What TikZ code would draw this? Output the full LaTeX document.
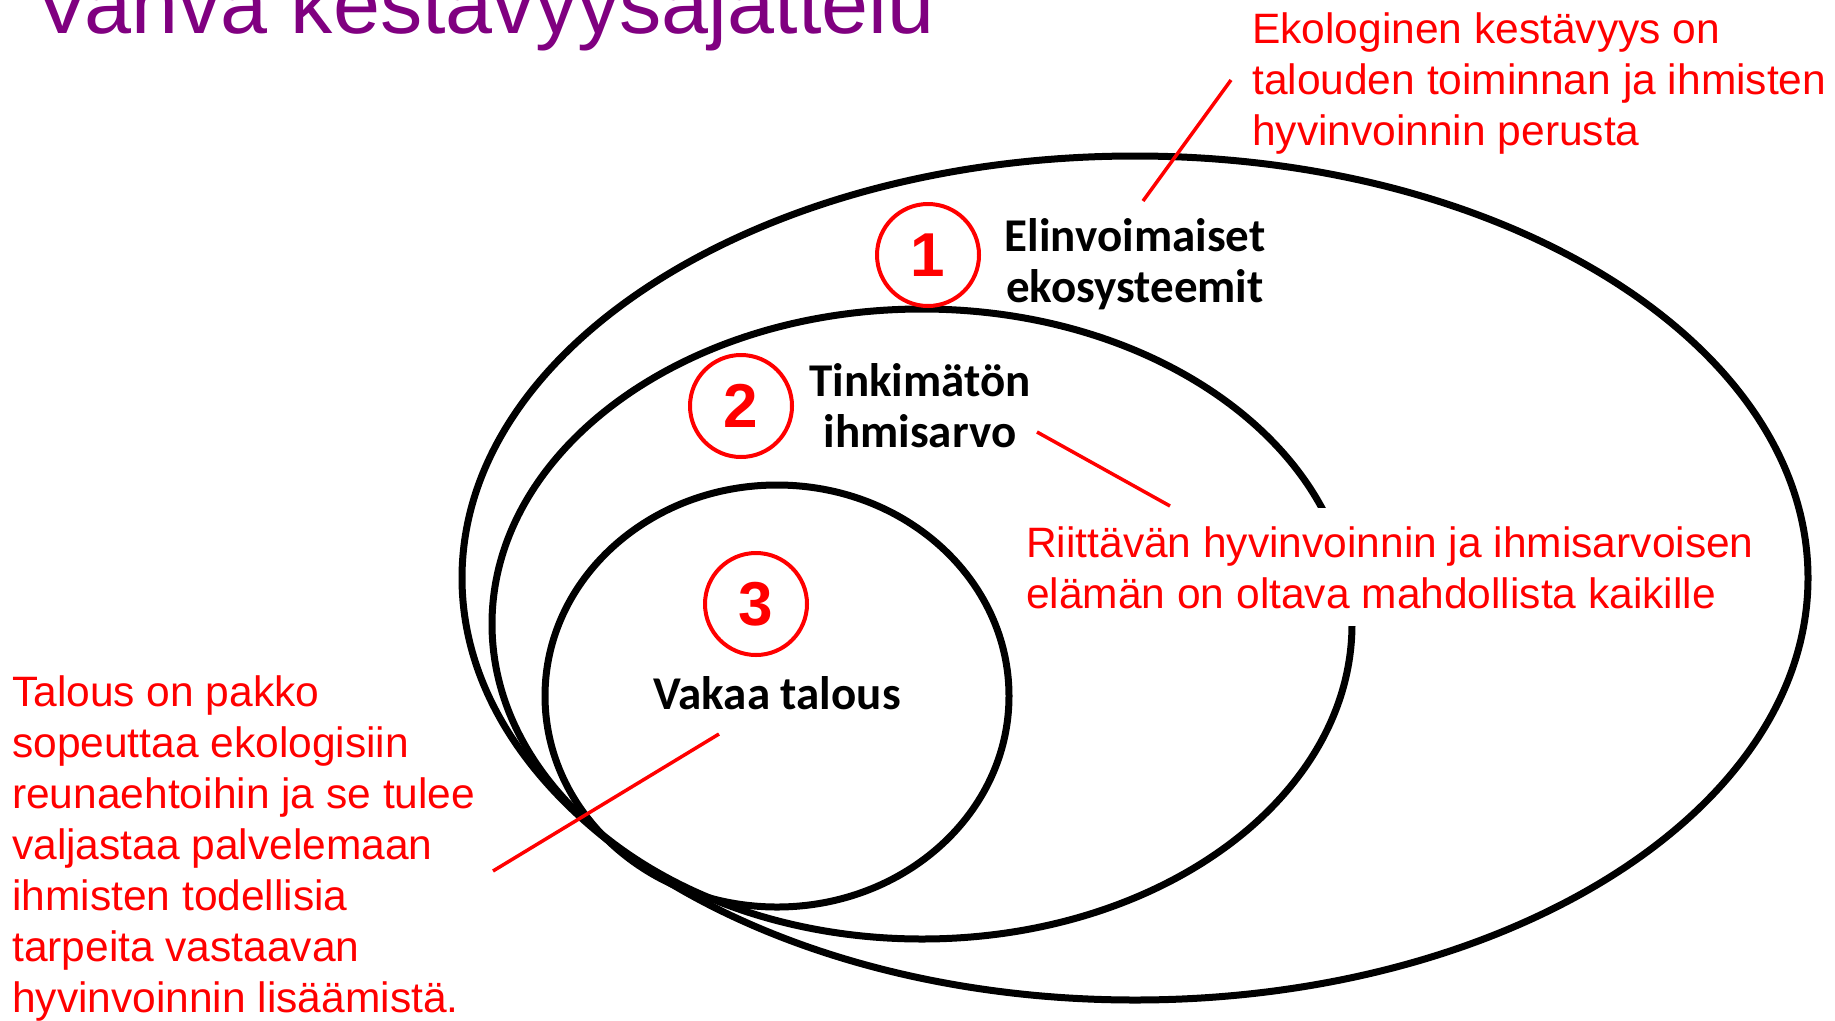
\documentclass[tikz,border=0pt]{standalone}
\usepackage{fontspec}
\setmainfont{Liberation Sans}
\newfontfamily\calibri{Carlito}
\definecolor{otsikko}{RGB}{128,0,128}
\begin{document}
\begin{tikzpicture}[x=1pt,y=-1pt,
    ring/.style={draw=black,line width=7pt},
    numero/.style={circle,draw=red,line width=4pt,minimum size=102pt,inner sep=0pt,
      text=red,font=\fontsize{62}{62}\selectfont\bfseries},
    nimi/.style={font=\calibri\bfseries\fontsize{47}{51}\selectfont,align=center,anchor=base,inner sep=0pt},
    huomio/.style={text=red,font=\fontsize{42.5}{51}\selectfont,align=left,anchor=base west,inner sep=0pt},
    viiva/.style={red,line width=3.5pt}]
  \useasboundingbox (0,0) rectangle (1835,1020);
  \node[anchor=base west,inner sep=0pt,text=otsikko,font=\fontsize{84.5}{84}\selectfont]
    (title) at (34,33) {Vahva kestävyysajattelu};
  % sisakkaiset kehat
  \draw[ring] (1135,578) ellipse [x radius=673pt, y radius=422pt];
  \draw[ring] (922,624) ellipse [x radius=430pt, y radius=315pt];
  \draw[ring] (777,696) ellipse [x radius=232pt, y radius=211pt];
  % numerot ja nimet
  \draw
    (928,255) node[numero] (n1){1}
    (741,406) node[numero] (n2){2}
    (756,604) node[numero] (n3){3};
  \draw
    (1135,302) node[nimi] (eko){Elinvoimaiset\\ekosysteemit}
    (920,447) node[nimi] (arvo){Tinkimätön\\ihmisarvo}
    (777,709) node[nimi] (talous){Vakaa talous};
  % huomautukset
  \node[huomio] (h1) at (1252,145) {Ekologinen kestävyys on\\talouden toiminnan ja ihmisten\\hyvinvoinnin perusta};
  \node[huomio,fill=white,inner xsep=8pt,inner ysep=18pt] (h2) at (1018,608)
    {Riittävän hyvinvoinnin ja ihmisarvoisen\\elämän on oltava mahdollista kaikille};
  \node[huomio] (h3) at (12,1012) {Talous on pakko\\sopeuttaa ekologisiin\\reunaehtoihin ja se tulee\\valjastaa palvelemaan\\ihmisten todellisia\\tarpeita vastaavan\\hyvinvoinnin lisäämistä.};
  \coordinate (h1a) at (1231,80);
  \coordinate (ekoa) at (1143,201);
  \coordinate (arvoa) at (1037,432);
  \coordinate (h2a) at (1170,506);
  \coordinate (talousa) at (719,734);
  \coordinate (h3a) at (493,871);
  \begin{scope}[viiva]
    \draw (h1a) to (ekoa);
    \draw (arvoa) to (h2a);
    \draw (talousa) to (h3a);
  \end{scope}
\end{tikzpicture}
\end{document}
